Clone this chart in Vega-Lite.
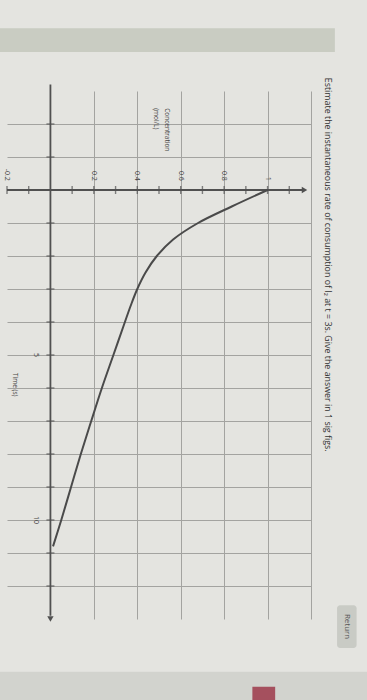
{
  "$schema": "https://vega.github.io/schema/vega-lite/v6.json",
  "width": 304,
  "height": 528,
  "autosize": "none",
  "padding": {"left": 7, "top": 91, "right": 56, "bottom": 81},
  "background": "#e4e4e0",
  "config": {"view": {"stroke": null}, "font": "Open Sans"},
  "datasets": {
    "curve": [
      {"time": 0, "conc": 1.0},
      {"time": 0.5, "conc": 0.835},
      {"time": 1.0, "conc": 0.68},
      {"time": 1.5, "conc": 0.565},
      {"time": 2.0, "conc": 0.49},
      {"time": 2.5, "conc": 0.438},
      {"time": 3.0, "conc": 0.40},
      {"time": 3.5, "conc": 0.37},
      {"time": 4.0, "conc": 0.343},
      {"time": 5.0, "conc": 0.29},
      {"time": 6.0, "conc": 0.237},
      {"time": 7.0, "conc": 0.188},
      {"time": 8.0, "conc": 0.14},
      {"time": 9.0, "conc": 0.095},
      {"time": 10.0, "conc": 0.05},
      {"time": 10.8, "conc": 0.012}
    ],
    "concTicks": [
      {"conc": -0.2}, {"conc": -0.1}, {"conc": 0.1}, {"conc": 0.2}, {"conc": 0.3},
      {"conc": 0.4}, {"conc": 0.5}, {"conc": 0.6}, {"conc": 0.7}, {"conc": 0.8},
      {"conc": 0.9}, {"conc": 1.0}, {"conc": 1.1}
    ],
    "timeTicks": [
      {"time": -2}, {"time": -1}, {"time": 1}, {"time": 2}, {"time": 3}, {"time": 4},
      {"time": 5}, {"time": 6}, {"time": 7}, {"time": 8}, {"time": 9}, {"time": 10},
      {"time": 11}, {"time": 12}
    ],
    "concLabels": [
      {"conc": -0.2, "label": "-0.2"},
      {"conc": 0.2, "label": "0.2"},
      {"conc": 0.4, "label": "0.4"},
      {"conc": 0.6, "label": "0.6"},
      {"conc": 0.8, "label": "0.8"},
      {"conc": 1.0, "label": "1"}
    ],
    "timeLabels": [
      {"time": 5, "label": "5"},
      {"time": 10, "label": "10"}
    ]
  },
  "layer": [
    {
      "data": {"values": [{}]},
      "mark": {"type": "rect", "color": "#c9ccc2", "clip": false},
      "encoding": {
        "x": {"datum": -0.24, "type": "quantitative"},
        "x2": {"datum": 1.31},
        "y": {"datum": -4.9, "type": "quantitative"},
        "y2": {"datum": -4.18}
      }
    },
    {
      "data": {"values": [{}]},
      "mark": {"type": "rect", "color": "#d2d3ce", "clip": false},
      "encoding": {
        "x": {"datum": -0.24, "type": "quantitative"},
        "x2": {"datum": 1.46},
        "y": {"datum": 14.6, "type": "quantitative"},
        "y2": {"datum": 15.5}
      }
    },
    {
      "data": {"values": [{}]},
      "mark": {"type": "rect", "color": "#a5505e", "clip": false},
      "encoding": {
        "x": {"datum": 0.93, "type": "quantitative"},
        "x2": {"datum": 1.035},
        "y": {"datum": 15.05, "type": "quantitative"},
        "y2": {"datum": 15.5}
      }
    },
    {
      "data": {"values": [{}]},
      "mark": {"type": "rect", "color": "#c9cbc5", "cornerRadius": 3, "clip": false},
      "encoding": {
        "x": {"datum": 1.32, "type": "quantitative"},
        "x2": {"datum": 1.41},
        "y": {"datum": 12.58, "type": "quantitative"},
        "y2": {"datum": 13.88}
      }
    },
    {
      "data": {"name": "curve"},
      "mark": {"type": "line", "opacity": 0},
      "encoding": {
        "x": {
          "field": "conc", "type": "quantitative",
          "scale": {"domain": [-0.2, 1.2], "nice": false, "zero": false},
          "axis": {"title": null, "labels": false, "ticks": false, "domain": false, "grid": true,
                   "values": [0.2, 0.4, 0.6, 0.8, 1.0, 1.2], "gridColor": "#a3a3a0", "gridOpacity": 1, "gridWidth": 1}
        },
        "y": {
          "field": "time", "type": "quantitative",
          "scale": {"domain": [-3, 13], "nice": false, "zero": false, "reverse": true},
          "axis": {"title": null, "labels": false, "ticks": false, "domain": false, "grid": true,
                   "values": [-2, -1, 1, 2, 3, 4, 5, 6, 7, 8, 9, 10, 11, 12], "gridColor": "#a3a3a0", "gridOpacity": 1, "gridWidth": 1}
        }
      }
    },
    {
      "data": {"values": [{}]},
      "mark": {"type": "rule", "color": "#505050", "strokeWidth": 1.8, "clip": false},
      "encoding": {
        "x": {"datum": -0.2, "type": "quantitative"},
        "x2": {"datum": 1.16},
        "y": {"datum": 0, "type": "quantitative"}
      }
    },
    {
      "data": {"values": [{}]},
      "mark": {"type": "rule", "color": "#505050", "strokeWidth": 1.8, "clip": false},
      "encoding": {
        "x": {"datum": 0, "type": "quantitative"},
        "y": {"datum": -3.2, "type": "quantitative"},
        "y2": {"datum": 12.9}
      }
    },
    {
      "data": {"values": [{}]},
      "mark": {"type": "point", "shape": "triangle-right", "filled": true, "color": "#505050", "size": 40, "opacity": 1, "clip": false},
      "encoding": {
        "x": {"datum": 1.17, "type": "quantitative"},
        "y": {"datum": 0, "type": "quantitative"}
      }
    },
    {
      "data": {"values": [{}]},
      "mark": {"type": "point", "shape": "triangle-down", "filled": true, "color": "#505050", "size": 40, "opacity": 1, "clip": false},
      "encoding": {
        "x": {"datum": 0, "type": "quantitative"},
        "y": {"datum": 13.0, "type": "quantitative"}
      }
    },
    {
      "data": {"name": "concTicks"},
      "mark": {"type": "tick", "orient": "vertical", "color": "#505050", "size": 8, "thickness": 1.4},
      "encoding": {
        "x": {"field": "conc", "type": "quantitative"},
        "y": {"datum": 0, "type": "quantitative"}
      }
    },
    {
      "data": {"name": "timeTicks"},
      "mark": {"type": "tick", "orient": "horizontal", "color": "#505050", "size": 8, "thickness": 1.4},
      "encoding": {
        "y": {"field": "time", "type": "quantitative"},
        "x": {"datum": 0, "type": "quantitative"}
      }
    },
    {
      "data": {"name": "curve"},
      "mark": {"type": "line", "color": "#4a4a4a", "strokeWidth": 2, "interpolate": "catmull-rom"},
      "encoding": {
        "x": {"field": "conc", "type": "quantitative"},
        "y": {"field": "time", "type": "quantitative"},
        "order": {"field": "time", "type": "quantitative"}
      }
    },
    {
      "data": {"name": "concLabels"},
      "mark": {"type": "text", "angle": 90, "align": "right", "baseline": "middle", "fontSize": 7, "color": "#444"},
      "encoding": {
        "x": {"field": "conc", "type": "quantitative"},
        "y": {"datum": -0.28, "type": "quantitative"},
        "text": {"field": "label"}
      }
    },
    {
      "data": {"name": "timeLabels"},
      "mark": {"type": "text", "angle": 90, "align": "center", "baseline": "middle", "fontSize": 7, "color": "#444"},
      "encoding": {
        "x": {"datum": -0.065, "type": "quantitative"},
        "y": {"field": "time", "type": "quantitative"},
        "text": {"field": "label"}
      }
    },
    {
      "data": {"values": [{}]},
      "mark": {"type": "text", "angle": 90, "align": "left", "baseline": "middle", "fontSize": 6.5, "color": "#444",
               "text": ["Concentration", "(mol/L)"], "lineHeight": 11},
      "encoding": {
        "x": {"datum": 0.535, "type": "quantitative"},
        "y": {"datum": -2.48, "type": "quantitative"}
      }
    },
    {
      "data": {"values": [{}]},
      "mark": {"type": "text", "angle": 90, "align": "center", "baseline": "middle", "fontSize": 6.5, "color": "#444", "text": "Time (s)"},
      "encoding": {
        "x": {"datum": -0.165, "type": "quantitative"},
        "y": {"datum": 5.9, "type": "quantitative"}
      }
    },
    {
      "data": {"values": [{}]},
      "mark": {"type": "text", "angle": 90, "align": "left", "baseline": "middle", "fontSize": 8.9, "color": "#333", "clip": false,
               "text": "Estimate the instantaneous rate of consumption of I₂ at t = 3s. Give the answer in 1 sig figs."},
      "encoding": {
        "x": {"datum": 1.279, "type": "quantitative"},
        "y": {"datum": -3.4, "type": "quantitative"}
      }
    },
    {
      "data": {"values": [{}]},
      "mark": {"type": "text", "angle": 90, "align": "center", "baseline": "middle", "fontSize": 8, "color": "#555", "text": "Return", "clip": false},
      "encoding": {
        "x": {"datum": 1.365, "type": "quantitative"},
        "y": {"datum": 13.23, "type": "quantitative"}
      }
    }
  ]
}
